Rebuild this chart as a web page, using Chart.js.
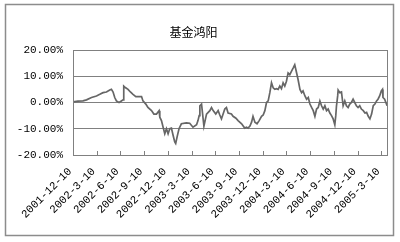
<!DOCTYPE html>
<html>
<head>
<meta charset="utf-8">
<script src="https://cdn.jsdelivr.net/npm/chart.js@4"></script>
<style>
  html, body { margin: 0; padding: 0; background: #fff; }
</style>
</head>
<body>
<canvas id="fundChart" width="400" height="242"></canvas>
<script>
// quarter tick labels (one per quarter, starting 2001-12-10)
const quarterLabels = ["2001-12-10", "2002-3-10", "2002-6-10", "2002-9-10", "2002-12-10",
  "2003-3-10", "2003-6-10", "2003-9-10", "2003-12-10", "2004-3-10", "2004-6-10",
  "2004-9-10", "2004-12-10", "2005-3-10"];

// position of each reading, in quarters since 2001-12-10
const pos = [0.00, 0.21, 0.42, 0.57, 0.78, 0.99, 1.13, 1.27, 1.41, 1.55, 1.62, 1.69, 1.76, 1.83, 1.94,
  2.04, 2.11, 2.14, 2.22, 2.32, 2.42, 2.53, 2.65, 2.89, 2.95, 3.07, 3.16, 3.31, 3.41, 3.52, 3.63,
  3.66, 3.73, 3.80, 3.87, 3.94, 4.01, 4.08, 4.15, 4.22, 4.29, 4.33, 4.39, 4.47, 4.57, 4.78, 4.92,
  5.06, 5.21, 5.27, 5.32, 5.35, 5.42, 5.52, 5.63, 5.77, 5.84, 5.91, 6.02, 6.12, 6.19, 6.26, 6.40,
  6.47, 6.54, 6.68, 6.75, 6.87, 6.96, 7.11, 7.24, 7.32, 7.38, 7.46, 7.53, 7.59, 7.67, 7.76, 7.85,
  7.95, 8.02, 8.09, 8.16, 8.23, 8.30, 8.37, 8.44, 8.51, 8.58, 8.65, 8.72, 8.79, 8.86, 8.93, 9.00,
  9.07, 9.14, 9.21, 9.28, 9.35, 9.43, 9.49, 9.57, 9.64, 9.70, 9.78, 9.85, 9.92, 9.99, 10.06, 10.13,
  10.20, 10.27, 10.34, 10.41, 10.48, 10.55, 10.62, 10.69, 10.76, 10.83, 10.90, 10.97, 11.04, 11.08,
  11.11, 11.16, 11.18, 11.25, 11.32, 11.39, 11.46, 11.53, 11.60, 11.67, 11.74, 11.81, 11.88, 11.95,
  12.02, 12.09, 12.16, 12.24, 12.31, 12.38, 12.45, 12.52, 12.59, 12.66, 12.73, 12.80, 12.86, 12.93,
  13.00, 13.05, 13.07, 13.14, 13.22, 13.24];

// cumulative return, %
const ret = [0.25, 0.5, 0.6, 1.0, 1.9, 2.5, 3.1, 3.75, 4.0, 4.75, 5.0, 4.0, 1.9, 0.6, 0,
  0.6, 1.0, 6.25, 5.6, 5.0, 4.0, 3.1, 2.25, 2.25, 0.6, -0.6, -1.9, -3.1, -4.4, -4.4, -3.1,
  -5.6, -6.9, -9.4, -11.9, -10, -11.9, -10, -9.75, -12.5, -15, -15.6, -13.1, -10, -8.1, -7.75, -7.9,
  -9.4, -8.5, -6.9, -5, -1.25, -0.6, -9, -4.4, -3.1, -1.9, -3.1, -4.4, -3.1, -4.75, -6.25, -2.5,
  -1.9, -4.0, -4.4, -5.25, -6.0, -6.9, -8.1, -9.75, -9.4, -9.75, -9.0, -7.5, -5.25, -7.5, -8.1, -6.9,
  -5.25, -4.75, -3.1, 0, 0.6, 3.75, 7.5, 5.6, 5.0, 5.25, 5.0, 6.25, 5.25, 7.5, 6.25, 8.1,
  11.25, 10.6, 11.9, 13.1, 14.4, 11.25, 8.75, 5.0, 3.75, 4.4, 2.5, 1.25, 1.9, -0.6, -1.9, -3.1,
  -5.25, -2.5, -1.9, 0.6, -1.25, -2.5, -1.25, -3.1, -2.5, -4.0, -5.0, -6.25, -8.5, -5,
  -1.25, 2.5, 4.75, 3.75, 4.0, -1.25, 0.6, -1.25, -1.9, -0.6, 0, 1.25, 0, -1.25,
  -1.9, -1.25, -2.5, -3.1, -4.0, -3.75, -5.25, -6.25, -4.4, -1.25, -0.6, 0.6, 1.25, 2.5,
  4.4, 5.0, 1.9, 1.25, -0.6, -1.25];

const monoFont = "'Liberation Mono', monospace";

// outer frame, plot box and the small inside tick marks on the x axis
const framePlugin = {
  id: 'frame',
  beforeDraw(chart) {
    const c = chart.ctx;
    c.save();
    c.fillStyle = '#fff';
    c.fillRect(0, 0, chart.width, chart.height);
    c.strokeStyle = '#8c8c8c';
    c.lineWidth = 1.5;
    c.strokeRect(5.5, 4.5, 388, 231);
    c.restore();
  },
  afterDraw(chart) {
    const c = chart.ctx;
    const a = chart.chartArea;
    const xs = chart.scales.x;
    c.save();
    c.strokeStyle = '#808080';
    c.lineWidth = 1;
    c.strokeRect(a.left + 0.5, a.top + 0.5, a.right - a.left, a.bottom - a.top);
    xs.ticks.forEach(t => {
      const px = Math.round(xs.getPixelForValue(t.value)) + 0.5;
      c.beginPath();
      c.moveTo(px, a.bottom);
      c.lineTo(px, a.bottom - 4);
      c.stroke();
    });
    c.restore();
  }
};

new Chart(document.getElementById('fundChart'), {
  type: 'line',
  data: {
    datasets: [{
      data: pos.map((p, i) => ({ x: p, y: ret[i] })),
      borderColor: '#666666',
      borderWidth: 1.7,
      pointRadius: 0,
      tension: 0,
      fill: false
    }]
  },
  options: {
    responsive: false,
    animation: false,
    layout: { padding: { left: 0, right: 13, top: 0, bottom: 0 } },
    plugins: {
      legend: { display: false },
      tooltip: { enabled: false },
      title: {
        display: true,
        text: '基金鸿阳',
        color: '#000',
        font: { family: "'Noto Sans CJK SC'", size: 12, weight: 'normal' },
        padding: { top: 25, bottom: 10.6 }
      }
    },
    scales: {
      x: {
        type: 'linear',
        min: 0,
        max: 13.24,
        grid: { display: false },
        border: { display: false },
        afterFit(axis) { axis.height = 87; },
        ticks: {
          stepSize: 1,
          includeBounds: false,
          autoSkip: false,
          maxRotation: 45,
          minRotation: 45,
          padding: 2,
          labelOffset: -3,
          color: '#000',
          font: { family: monoFont, size: 11 },
          callback: v => quarterLabels[v] || ''
        }
      },
      y: {
        min: -20,
        max: 20,
        grid: { color: '#808080', drawTicks: false },
        border: { display: false },
        afterFit(axis) { axis.width = 73; },
        ticks: {
          stepSize: 5,
          padding: 10,
          color: '#000',
          font: { family: monoFont, size: 11 },
          callback: v => v.toFixed(2) + '%'
        }
      }
    }
  },
  plugins: [framePlugin]
});
</script>
</body>
</html>
